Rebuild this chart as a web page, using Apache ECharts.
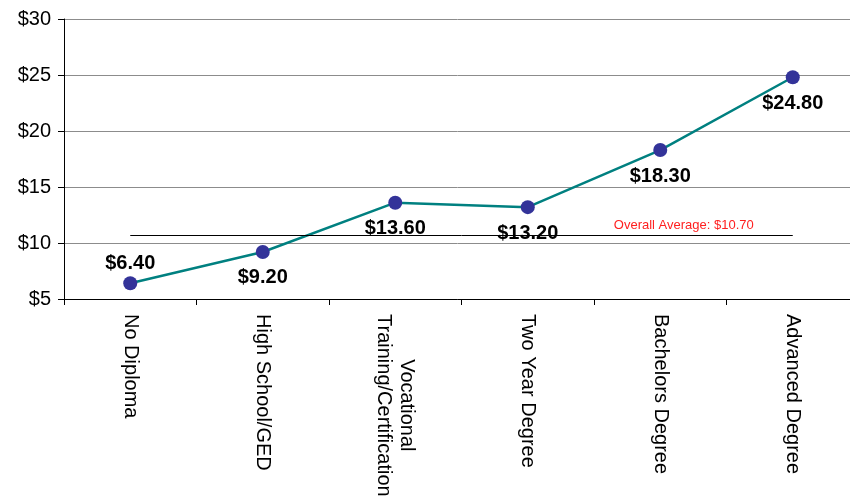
<!DOCTYPE html>
<html><head><meta charset="utf-8">
<script src="https://cdn.jsdelivr.net/npm/echarts@6/dist/echarts.min.js"></script>
<style>html,body{margin:0;padding:0;background:#fff}#c{width:850px;height:504px}</style>
</head><body><div id="c"></div>
<script>
const categories = ['No Diploma', 'High School/GED', 'Vocational\nTraining/Certification', 'Two Year Degree', 'Bachelors Degree', 'Advanced Degree'];
const wages = [6.4, 9.2, 13.6, 13.2, 18.3, 24.8];
const labelPositions = ['top', 'bottom', 'bottom', 'bottom', 'bottom', 'bottom'];
const overallAverage = 10.7;
const yTicks = { min: 5, max: 30, interval: 5 };

const chart = echarts.init(document.getElementById('c'), null, { renderer: 'canvas' });
const font = 'Arial, "Liberation Sans", sans-serif';
chart.setOption({
  animation: false,
  grid: { left: 64, width: 795, top: 19, height: 280, containLabel: false, outerBoundsMode: 'none' },
  xAxis: {
    type: 'category',
    data: categories,
    boundaryGap: true,
    axisLine: { lineStyle: { color: '#000', width: 1 } },
    axisTick: { show: true, length: 6, inside: false, lineStyle: { color: '#000' } },
    axisLabel: {
      rotate: -90, margin: 15, color: '#000', fontFamily: font, fontSize: 20,
      interval: 0,
      formatter: v => v.split('\n').map(s => '{c|' + s + '}').join('\n'),
      rich: { c: { align: 'center', fontFamily: font, fontSize: 20, color: '#000', lineHeight: 23 } }
    }
  },
  yAxis: {
    type: 'value',
    min: yTicks.min, max: yTicks.max, interval: yTicks.interval,
    axisLine: { show: true, lineStyle: { color: '#000', width: 1 } },
    axisTick: { show: true, length: 6, lineStyle: { color: '#000' } },
    splitLine: { show: true, lineStyle: { color: '#8c8c8c', width: 1 } },
    axisLabel: { color: '#000', fontFamily: font, fontSize: 20, margin: 13, formatter: v => '$' + v }
  },
  series: [{
    type: 'line',
    data: wages.map((v, i) => ({ value: v, label: { position: labelPositions[i], distance: labelPositions[i] === 'top' ? 3 : 9 } })),
    symbol: 'circle',
    symbolSize: 14,
    itemStyle: { color: '#333399' },
    lineStyle: { color: '#008080', width: 2.5 },
    label: {
      show: true, distance: 9, color: '#000', fontFamily: font, fontSize: 20, fontWeight: 'bold',
      formatter: p => '$' + p.value.toFixed(2)
    },
    markLine: {
      silent: true,
      symbol: ['none', 'none'],
      lineStyle: { color: '#000', width: 1, type: 'solid' },
      label: {
        show: true, position: 'insideEndTop', color: '#ff2020', fontFamily: font, fontSize: 13,
        padding: [0, 36, 0, 0], distance: 3,
        formatter: 'Overall Average: $' + overallAverage.toFixed(2)
      },
      data: [[{ coord: [0, overallAverage] }, { coord: [categories.length - 1, overallAverage] }]]
    }
  }]
});
</script></body></html>
